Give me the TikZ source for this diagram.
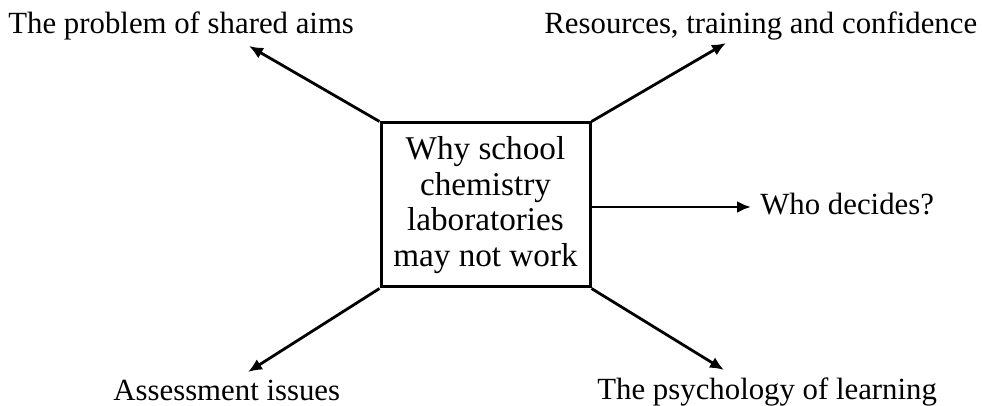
\documentclass[tikz,border=0pt]{standalone}
\usepackage{fontspec}
\setmainfont{Liberation Serif}
\usetikzlibrary{arrows.meta}
\tikzstyle{topic} = [draw, line width=1.5pt, minimum width=104.5pt, minimum height=82pt, inner sep=0pt, align=center, font=\fontsize{16.6}{17.9}\selectfont]
\tikzstyle{issue} = [anchor=base west, inner sep=0pt, font=\fontsize{15.4}{18}\selectfont]
\tikzstyle{flow} = [draw, line width=1.4pt, -{Latex[length=7pt,width=6pt]}]

\begin{document}
\begin{tikzpicture}[x=0.5pt, y=-0.5pt]
	\useasboundingbox (0,0) rectangle (982,406);
	\node[topic] (labWork) at (485.5,205) {Why school\\chemistry\\laboratories\\may not work};
	
	\node[issue] (sharedAims) at (8,34) {The problem of shared aims};
	\node[issue] (resources) at (544,34) {Resources, training and confidence};
	\node[issue] (whoDecides) at (760,215) {Who decides?};
	\node[issue] (assessment) at (113,401) {Assessment issues};
	\node[issue] (psychology) at (597,400) {The psychology of learning};
	
	\coordinate (sharedAimsTip) at (249,46);
	\coordinate (resourcesTip) at (726,43);
	\coordinate (whoDecidesTip) at (751,207);
	\coordinate (assessmentTip) at (248,372);
	\coordinate (psychologyTip) at (724,370);
	
	\path[flow] (labWork.north west) -- (sharedAimsTip);
	\path[flow] (labWork.north east) -- (resourcesTip);
	\path[flow] (labWork.east |- whoDecidesTip) -- (whoDecidesTip);
	\path[flow] (labWork.south west) -- (assessmentTip);
	\path[flow] (labWork.south east) -- (psychologyTip);
\end{tikzpicture}
\end{document}
